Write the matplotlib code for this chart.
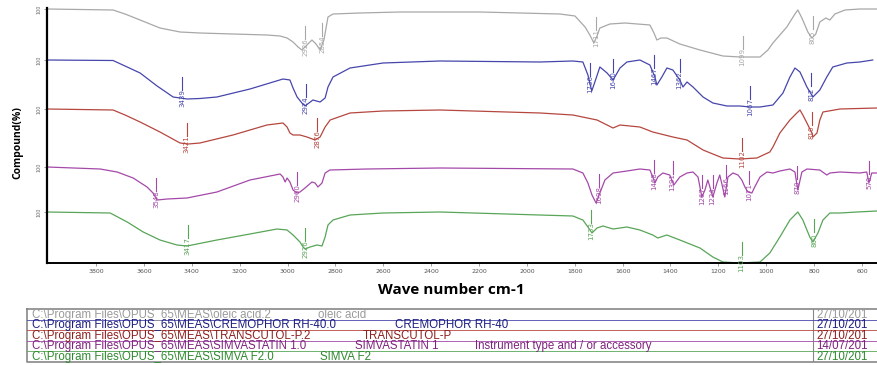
import numpy as np
import matplotlib.pyplot as plt

# oleic acid
gray_wn = [4005, 3867, 3729, 3679, 3616, 3533, 3449, 3366, 3228, 3086, 3031, 3002, 2977, 2956, 2940,
           2919, 2898, 2881, 2864, 2848, 2831, 2810, 2697, 2530, 2363, 2196, 2029, 1862, 1799, 1757,
           1737, 1720, 1707, 1695, 1653, 1590, 1486, 1469, 1457, 1440, 1415, 1361, 1277, 1181, 1110,
           1026, 993, 972, 943, 914, 880, 868, 851, 826, 809, 793, 776, 751, 734, 713, 671, 609, 567, 534]
gray_t = [100, 99.5, 99, 95, 89, 81, 77, 76, 75, 74, 73, 71, 67, 62, 59,
          64, 69, 65, 59, 69, 92, 95, 96, 97, 97, 97, 96, 95, 93, 82,
          74, 66, 73, 81, 85, 86, 84, 76, 69, 71, 71, 65, 59, 53, 52,
          52, 59, 66, 74, 82, 95, 99, 91, 77, 71, 75, 87, 91, 89, 95, 99, 100, 100, 100]
gray_peaks = ['2926', '2854', '1711', '1099', '805']

# cremophor RH-40
blue_wn = [4005, 3729, 3670, 3616, 3545, 3478, 3419, 3366, 3295, 3157, 3019, 2990, 2977, 2960, 2940,
           2927, 2894, 2864, 2843, 2831, 2810, 2739, 2601, 2363, 1945, 1808, 1766, 1745, 1729, 1716,
           1695, 1665, 1640, 1611, 1582, 1528, 1486, 1465, 1457, 1436, 1415, 1390, 1361, 1348, 1331,
           1306, 1264, 1223, 1164, 1110, 1068, 1026, 972, 930, 901, 880, 859, 830, 805, 776,
           747, 722, 663, 609, 555]
blue_t = [100, 99.5, 93, 87, 74, 63, 61, 61.5, 63, 71, 81, 80, 72, 63, 57,
          54, 60, 58, 62, 73, 83, 92, 97, 99, 98, 99, 98, 85, 69, 78,
          93, 87, 80, 92, 98, 100, 95, 83, 75, 83, 92, 90, 80, 73, 78,
          73, 63, 57, 54, 54, 53, 53, 55, 67, 83, 92, 88, 73, 63, 70,
          83, 93, 97, 98, 100]
blue_peaks = ['3439', '2924', '1736', '1640', '1467', '1362', '1067', '812']

# transcutol-P
red_wn = [4005, 3729, 3679, 3616, 3533, 3449, 3415, 3366, 3228, 3086, 3019, 3002, 2990, 2977, 2948,
          2919, 2885, 2864, 2843, 2822, 2739, 2601, 2363, 1945, 1808, 1707, 1665, 1640, 1611, 1528,
          1474, 1390, 1331, 1264, 1223, 1181, 1110, 1039, 985, 972, 943, 901, 872, 859, 847,
          830, 809, 805, 788, 776, 763, 692, 538]
red_t = [100, 99, 94, 87, 77, 66, 65, 66, 74, 84, 86, 82, 76, 74, 74,
         72, 69, 72, 82, 89, 96, 98, 99, 96, 94, 89, 84, 81, 84, 82,
         77, 72, 69, 59, 55, 51, 50, 51, 57, 62, 76, 89, 96, 99, 94,
         86, 76, 72, 76, 89, 97, 100, 101]
red_peaks = ['3421', '2876', '1102', '810']

# simvastatin
purple_wn = [4005, 3783, 3712, 3645, 3587, 3562, 3545, 3503, 3420, 3295, 3157, 3031, 3019, 3010, 3002,
             2990, 2977, 2960, 2948, 2927, 2898, 2885, 2873, 2856, 2843, 2823, 2668, 2363, 1808, 1766,
             1745, 1728, 1711, 1695, 1674, 1640, 1582, 1528, 1486, 1474, 1465, 1453, 1432, 1403, 1386,
             1361, 1331, 1306, 1285, 1269, 1256, 1244, 1223, 1206, 1194, 1173, 1160, 1139, 1118, 1102,
             1089, 1077, 1060, 1048, 1026, 997, 972, 943, 901, 880, 868, 851, 830, 776, 747,
             734, 692, 609, 580, 571, 559, 538]
purple_t = [100, 98, 95, 89, 80, 74, 67, 68, 69, 75, 87, 93, 90, 85, 89,
            85, 77, 74, 75, 79, 85, 84, 80, 84, 94, 97, 98, 99, 98, 94,
            84, 72, 64, 74, 87, 94, 96, 98, 97, 90, 84, 90, 94, 92, 82,
            90, 94, 95, 90, 70, 77, 87, 70, 84, 92, 70, 90, 94, 92, 87,
            80, 75, 74, 80, 90, 95, 94, 96, 98, 95, 77, 95, 98, 97, 92,
            94, 95, 94, 95, 84, 94, 94]
purple_peaks = ['3548', '2960', '1698', '1468', '1391', '1267', '1224', '1166', '1071', '870', '570']

# simva F2
green_wn = [4005, 3741, 3670, 3603, 3533, 3462, 3420, 3295, 3157, 3044, 3002, 2977, 2948, 2935, 2927,
            2906, 2877, 2856, 2843, 2831, 2810, 2739, 2601, 2363, 1808, 1766, 1745, 1728, 1707, 1682,
            1640, 1582, 1528, 1474, 1453, 1415, 1361, 1277, 1223, 1181, 1110, 1026, 985, 943, 901,
            868, 847, 818, 805, 784, 763, 734, 692, 621, 538]
green_t = [100, 99, 90, 80, 72, 67, 66, 72, 78, 83, 82, 77, 70, 65, 63,
           65, 67, 66, 75, 87, 92, 97, 99, 100, 96, 92, 85, 79, 84, 86,
           83, 85, 82, 77, 74, 77, 72, 64, 55, 50, 49, 50, 59, 75, 92,
           100, 92, 75, 70, 79, 92, 99, 99, 100, 101]
green_peaks = ['3417', '2926', '1733', '1103', '800']

xticks = list(range(3800, 599, -200))

files = [
    ('C:\\Program Files\\OPUS_65\\MEAS\\oleic acid.2', 'oleic acid', '', '27/10/201'),
    ('C:\\Program Files\\OPUS_65\\MEAS\\CREMOPHOR RH-40.0', 'CREMOPHOR RH-40', '', '27/10/201'),
    ('C:\\Program Files\\OPUS_65\\MEAS\\TRANSCUTOL-P.2', 'TRANSCUTOL-P', '', '27/10/201'),
    ('C:\\Program Files\\OPUS_65\\MEAS\\SIMVASTATIN 1.0', 'SIMVASTATIN 1',
     'Instrument type and / or accessory', '14/07/201'),
    ('C:\\Program Files\\OPUS_65\\MEAS\\SIMVA F2.0', 'SIMVA F2', '', '27/10/201'),
]

line_cols = ['#a8a8a8', '#4646ac', '#b5473f', '#a449a9', '#58a558']
text_cols = ['#9a9a9a', '#1e1e80', '#8e1f1f', '#7e237e', '#2f8a2f']
bases = [253, 202, 153, 95, 50]
col2_x = [291, 368, 336, 328, 293]

fig = plt.figure(figsize=(8.78, 3.65), dpi=100)
ax = fig.add_axes([47 / 878, 1 - 263 / 365, 831 / 878, 255 / 365])

spectra = [(gray_wn, gray_t, gray_peaks), (blue_wn, blue_t, blue_peaks), (red_wn, red_t, red_peaks),
           (purple_wn, purple_t, purple_peaks), (green_wn, green_t, green_peaks)]

for (wn, t, peaks), base, col in zip(spectra, bases, line_cols):
    wn = np.array(wn, dtype=float)
    y = base + np.array(t, dtype=float) - 100
    ax.plot(wn, y, color=col, lw=0.9)
    for lab in peaks:
        w = float(lab)
        yy = np.interp(w, wn[::-1], y[::-1])
        ax.text(w, yy, lab, rotation=90, fontsize=5, color=col, ha='center', va='center')
        ax.plot([w, w], [yy + 8, yy + 21], color=col, lw=0.8)

ax.set_xlim(4005, 533)
ax.set_ylim(-1, 254)
ax.set_xticks(xticks)
ax.set_xticklabels([str(v) for v in xticks], fontsize=4.5, color='#555555')
ax.set_yticks(bases)
ax.set_yticklabels(['100'] * 5, fontsize=3.5, color='#666666', rotation=90, va='center')
ax.tick_params(length=2, width=0.5, color='#777777', pad=2)
ax.spines['top'].set_visible(False)
ax.spines['right'].set_visible(False)
ax.spines['left'].set_linewidth(1.6)
ax.spines['bottom'].set_linewidth(1.4)

fig.text(0.514, 1 - 290 / 365, 'Wave number cm-1', ha='center', va='center',
         fontsize=11, fontweight='bold', family='Open Sans')
fig.text(18 / 878, 1 - 143 / 365, 'Compound(%)', ha='center', va='center', rotation=90,
         fontsize=7.5, fontweight='bold', family='Open Sans')

# file table under the plot
tab = fig.add_axes([27 / 878, 1 - 362 / 365, 851 / 878, 53 / 365])
tab.set_xlim(0, 851)
tab.set_ylim(53, 0)
tab.axis('off')
tab.plot([0, 851, 851, 0, 0], [0, 0, 53, 53, 0], color='#888888', lw=1.2, clip_on=False)
tab.plot([786, 786], [0, 53], color='#888888', lw=0.8)
rh = 53 / 5
for i, (path, name, extra, date) in enumerate(files):
    yc = rh * i + rh / 2 + 0.3
    tc = text_cols[i]
    tab.text(5, yc, path, fontsize=8.3, color=tc, va='center', family='Liberation Sans')
    tab.text(col2_x[i], yc, name, fontsize=8.3, color=tc, va='center', family='Liberation Sans')
    if extra:
        tab.text(448, yc, extra, fontsize=8.3, color=tc, va='center', family='Liberation Sans')
    tab.text(789, yc, date, fontsize=8.3, color=tc, va='center', family='Liberation Sans')
    if i < 4:
        tab.plot([0, 851], [rh * (i + 1), rh * (i + 1)], color=line_cols[i + 1], lw=0.6)

fig.savefig('out.png', dpi=100)
